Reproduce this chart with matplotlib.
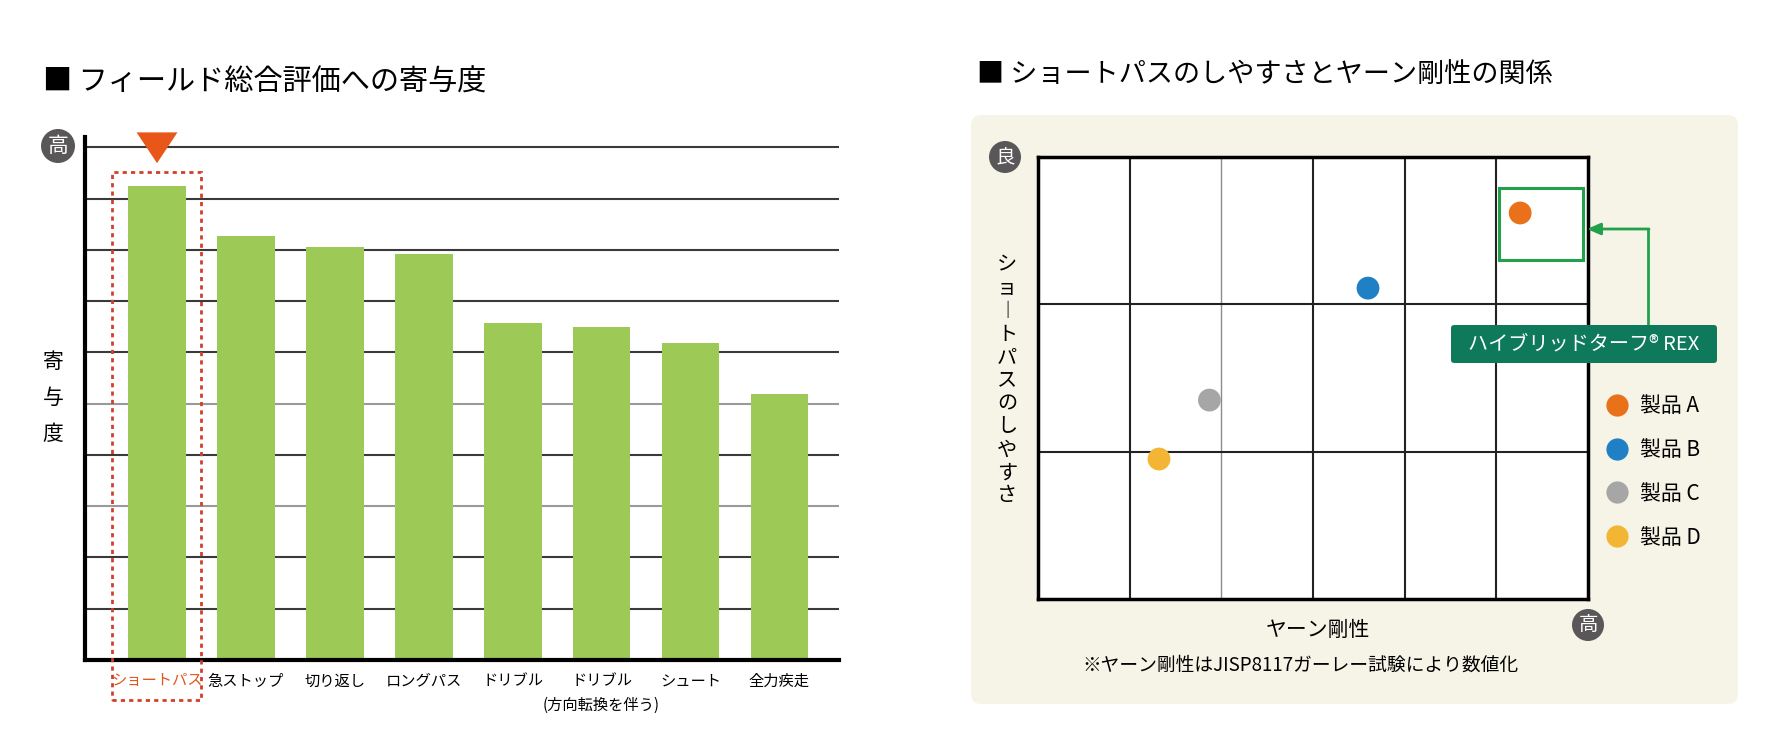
import matplotlib
matplotlib.use('Agg')
import matplotlib.pyplot as plt
from matplotlib.patches import Rectangle, FancyBboxPatch, Polygon, Circle
from matplotlib.lines import Line2D
import numpy as np

plt.rcParams['font.family'] = ['Noto Sans CJK JP', 'DejaVu Sans']

# ---------------- data ----------------
bar_categories = ['ショートパス', '急ストップ', '切り返し', 'ロングパス', 'ドリブル',
                  'ドリブル\n(方向転換を伴う)', 'シュート', '全力疾走']
bar_values = [9.24, 8.27, 8.05, 7.91, 6.58, 6.50, 6.18, 5.18]
highlight_index = 0

products = ['製品 A', '製品 B', '製品 C', '製品 D']
yarn_stiffness = [5.26, 3.60, 1.87, 1.32]
short_pass_ease = [2.62, 2.11, 1.35, 0.95]
product_colors = ['#E8711A', '#1F80C6', '#A6A6A6', '#F3B634']

left_title = '■ フィールド総合評価への寄与度'
right_title = '■ ショートパスのしやすさとヤーン剛性の関係'
y_label_left = ['寄', '与', '度']
y_label_right = 'ショートパスのしやすさ'
x_label_right = 'ヤーン剛性'
footnote = '※ヤーン剛性はJISP8117ガーレー試験により数値化'
callout = 'ハイブリッドターフ® REX'

# ---------------- layout ----------------
W, H = 1768, 750
fig = plt.figure(figsize=(W / 100, H / 100), dpi=100)


def rect(x0, y0, x1, y1):
    return [x0 / W, 1 - y1 / H, (x1 - x0) / W, (y1 - y0) / H]


GREEN = '#22A04B'
DARK = '#595757'

bg = fig.add_axes([0, 0, 1, 1])
bg.set_xlim(0, W)
bg.set_ylim(H, 0)
bg.axis('off')
bg.set_zorder(0)

# right panel background
bg.add_patch(FancyBboxPatch((971, 115), 767, 589,
                            boxstyle='round,pad=0,rounding_size=10',
                            fc='#F6F4E6', ec='none', zorder=0))

bg.text(43, 83, left_title, fontsize=21, ha='left', va='center')
bg.text(977, 74, right_title, fontsize=19.5, ha='left', va='center')

# "高" badge for bar chart
bg.add_patch(Circle((58, 146), 17, fc=DARK, ec='none', zorder=2))
bg.text(58, 146, '高', color='white', fontsize=15, ha='center', va='center', zorder=3)
for ch, yy in zip(y_label_left, [362, 398, 434]):
    bg.text(53, yy, ch, fontsize=15, ha='center', va='center')

# ---------------- bar chart ----------------
ax = fig.add_axes(rect(85, 137, 839, 660))
ax.set_zorder(2)
ax.set_facecolor('none')
x = np.arange(len(bar_categories))
ax.bar(x, bar_values, width=0.65, color='#9DC957', zorder=2)
for v in range(1, 11):
    c = '#9A9A9A' if v in (3, 5) else '#3A3A3A'
    ax.axhline(v, color=c, lw=1.5, zorder=1)
ax.set_xlim(-0.81, 7.67)
ax.set_ylim(0, 10.2)
ax.set_yticks([])
for s in ('top', 'right'):
    ax.spines[s].set_visible(False)
for s in ('left', 'bottom'):
    ax.spines[s].set_linewidth(3)
    ax.spines[s].set_color('black')
    ax.spines[s].set_zorder(3)
ax.set_xticks(x)
ax.set_xticklabels(bar_categories, fontsize=11, linespacing=1.6)
ax.tick_params(axis='x', length=0, pad=9)
ax.get_xticklabels()[highlight_index].set_color('#E0561E')

# highlight marker and dashed frame
hx = x[highlight_index]
ax.add_patch(Polygon([(hx - 0.23, 10.29), (hx + 0.23, 10.29), (hx, 9.69)],
                     closed=True, fc='#E8561A', ec='none', clip_on=False, zorder=4))
ax.add_patch(Rectangle((hx - 0.51, -0.78), 1.01, 9.51 + 0.78, fill=False,
                       ec='#D0402C', lw=2, linestyle=(0, (1.5, 1.5)),
                       clip_on=False, zorder=4))

# ---------------- scatter chart ----------------
ax2 = fig.add_axes(rect(1038, 157, 1588, 599))
ax2.set_zorder(2)
ax2.set_facecolor('white')
ax2.set_xlim(0, 6)
ax2.set_ylim(0, 3)
for v in range(1, 6):
    if v == 2:
        ax2.axvline(v, color='#8C8C8C', lw=1.0, zorder=1)
    else:
        ax2.axvline(v, color='#222222', lw=1.5, zorder=1)
for v in (1, 2):
    ax2.axhline(v, color='#222222', lw=1.5, zorder=1)
ax2.set_xticks([])
ax2.set_yticks([])
for s in ax2.spines.values():
    s.set_linewidth(2.5)
    s.set_color('black')

handles = []
for name, xv, yv, col in zip(products, yarn_stiffness, short_pass_ease, product_colors):
    ax2.scatter([xv], [yv], s=270, color=col, edgecolors='none', zorder=3)
    handles.append(Line2D([], [], linestyle='none', marker='o', markersize=16,
                          markerfacecolor=col, markeredgecolor='none', label=name))

# green frame around product A
ax2.add_patch(Rectangle((5.03, 2.30), 0.91, 0.49, fill=False, ec=GREEN, lw=2.2,
                        clip_on=False, zorder=4))

leg = fig.legend(handles=handles, loc='upper left',
                 bbox_to_anchor=(1607 / W, 1 - 395 / H), frameon=False,
                 fontsize=15, handlelength=1.0, handletextpad=0.6,
                 labelspacing=1.05, borderpad=0, borderaxespad=0)

# badges and axis labels
bg.add_patch(Circle((1005, 157), 16, fc=DARK, ec='none', zorder=2))
bg.text(1005, 157, '良', color='white', fontsize=14, ha='center', va='center', zorder=3)

fg = fig.add_axes([0, 0, 1, 1])
fg.set_xlim(0, W)
fg.set_ylim(H, 0)
fg.axis('off')
fg.set_zorder(5)
fg.patch.set_alpha(0)

fg.add_patch(Circle((1588, 625), 16, fc=DARK, ec='none', zorder=2))
fg.text(1588, 625, '高', color='white', fontsize=14, ha='center', va='center', zorder=3)

chars = [('︱' if c == 'ー' else c) for c in y_label_right]
for i, ch in enumerate(chars):
    bg.text(1007, 265 + i * 23.1, ch, fontsize=14.5, ha='center', va='center', zorder=3)

bg.text(1318, 630, x_label_right, fontsize=15, ha='center', va='center', zorder=3)
bg.text(1300, 665, footnote, fontsize=13.5, ha='center', va='center', zorder=3)

# callout box and arrow
fg.add_patch(FancyBboxPatch((1451, 325), 266, 38, boxstyle='round,pad=0,rounding_size=3',
                            fc='#0E7A5B', ec='none', zorder=2))
fg.text(1584, 344, callout, color='white', fontsize=14.5, ha='center', va='center', zorder=3)
fg.plot([1648, 1648], [325, 229], color=GREEN, lw=2, zorder=1)
fg.annotate('', xy=(1587, 229), xytext=(1649, 229),
            arrowprops=dict(arrowstyle='-|>,head_length=0.8,head_width=0.35',
                            color=GREEN, lw=2, shrinkA=0, shrinkB=0))

fig.savefig('out.png', dpi=100)
